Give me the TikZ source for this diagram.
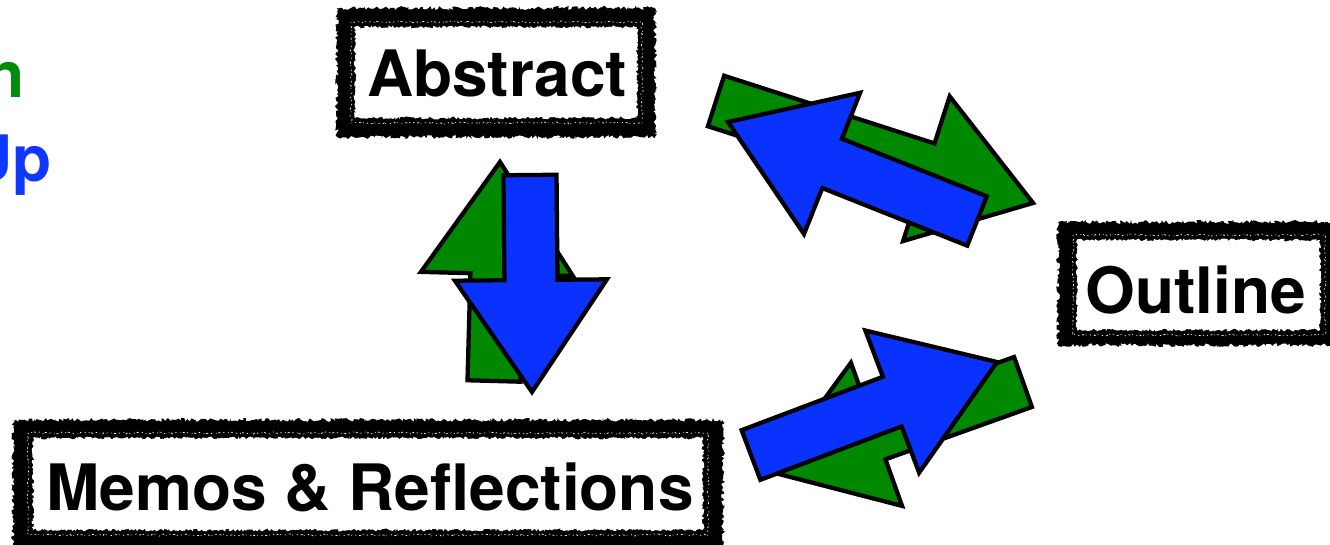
\documentclass[tikz,border=0pt]{standalone}
\usepackage{fontspec}
\setmainfont{TeX Gyre Heros}
\usetikzlibrary{calc,decorations.pathmorphing}
\definecolor{arrgreen}{RGB}{0,136,0}
\definecolor{arrblue}{RGB}{10,50,255}
\definecolor{txtgreen}{RGB}{0,140,10}
\definecolor{txtblue}{RGB}{14,56,255}
\tikzset{
  arrowline/.style={draw=black, line width=3.2pt, line join=miter, miter limit=20},
  roughblack/.style={fill=black, decorate, decoration={random steps, segment length=1.3pt, amplitude=1.5pt}},
  roughwhite/.style={fill=white, decorate, decoration={random steps, segment length=1.2pt, amplitude=1.1pt}},
  speckle/.style={draw=white, line width=0.5pt, dash pattern=on 0.9pt off 2.2pt on 1.6pt off 1.4pt on 0.6pt off 2.8pt, decorate, decoration={random steps, segment length=1.5pt, amplitude=0.8pt}},
  boxtext/.style={font=\fontsize{48}{56}\selectfont\bfseries, inner sep=0pt, anchor=base, text=black},
  sidetext/.style={font=\fontsize{48}{56}\selectfont\bfseries, inner sep=0pt, anchor=base east},
}
\newcommand\blockarrow[3]{% #1 colour, #2 tail, #3 tip
  \coordinate (#2-hb) at ($(#3)!84pt!(#2)$);
  \draw[arrowline, fill=#1]
    ($(#2)!19.9pt!90:(#3)$) -- ($(#2-hb)!19.9pt!90:(#3)$) -- ($(#2-hb)!57pt!90:(#3)$) -- (#3)
    -- ($(#2-hb)!57pt!-90:(#3)$) -- ($(#2-hb)!19.9pt!-90:(#3)$) -- ($(#2)!19.9pt!-90:(#3)$) -- cycle;}
\newcommand\roughframe[4]{% outer corner, outer corner, inner corner, inner corner
  \path[roughblack] #1 rectangle #2;
  \path[roughwhite] #3 rectangle #4;}
\begin{document}
\begin{tikzpicture}[x=0.75pt, y=-0.75pt]
\useasboundingbox (0,0) rectangle (1330,545);

% frames
\roughframe{(337,8)}{(655,137)}{(355,27)}{(637,118)}
\draw[speckle] (351,22) rectangle (642,123);
\roughframe{(1058,222)}{(1345,345)}{(1077,240)}{(1320,330)}
\draw[speckle] (1073,235) rectangle (1325,335);
\roughframe{(13,420)}{(723,555)}{(33,438)}{(703,530)}
\draw[speckle] (28,433) rectangle (708,535);

% texts
\node[boxtext] (abstract) at (497,97) {Abstract};
\node[boxtext] (outline) at (1195.5,313) {Outline};
\node[boxtext] (memos) at (370,510) {Memos \& Reflections};
\node[sidetext, text=txtgreen] (down) at (25,98) {n};
\node[sidetext, text=txtblue] (up) at (52,182) {Up};

% arrow ends
\coordinate (gu) at (494,381);  \coordinate (gu-tip) at (500,162);
\coordinate (bd) at (530,175);  \coordinate (bd-tip) at (532,392);
\coordinate (gr) at (716,101);  \coordinate (gr-tip) at (1033,203);
\coordinate (bl) at (977,221);  \coordinate (bl-tip) at (728,122);
\coordinate (br) at (751,455);  \coordinate (br-tip) at (997,362);
\coordinate (gl) at (1023,382); \coordinate (gl-tip) at (771,472);

% arrows: green below blue
\blockarrow{arrgreen}{gu}{gu-tip}
\blockarrow{arrblue}{bd}{bd-tip}
\blockarrow{arrgreen}{gr}{gr-tip}
\blockarrow{arrblue}{bl}{bl-tip}
\blockarrow{arrgreen}{gl}{gl-tip}
\blockarrow{arrblue}{br}{br-tip}
\end{tikzpicture}
\end{document}
